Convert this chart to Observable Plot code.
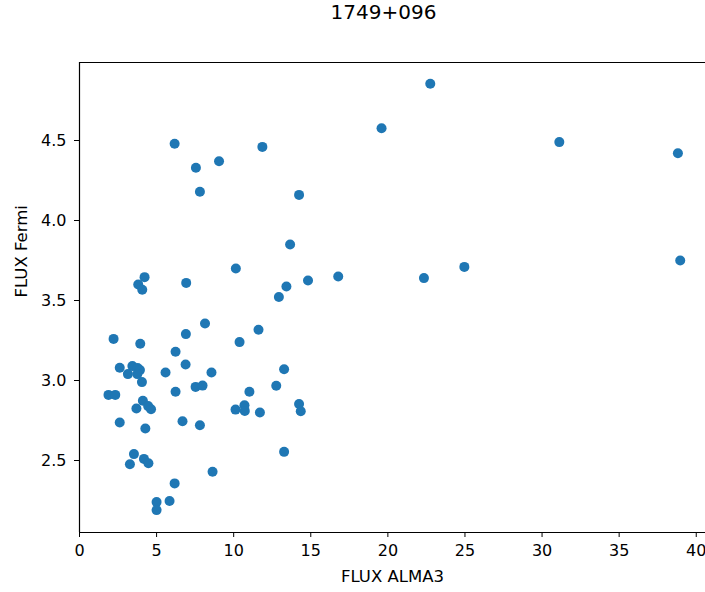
<!DOCTYPE html>
<html>
<head>
<meta charset="utf-8">
<script src="https://cdn.jsdelivr.net/npm/d3@7"></script>
<script src="https://cdn.jsdelivr.net/npm/@observablehq/plot@0.6"></script>
<style>
  html, body { margin: 0; padding: 0; background: #fff; }
  #chart { width: 705px; height: 592px; font-family: "DejaVu Sans", sans-serif; }
  #title { height: 30px; box-sizing: border-box; padding-top: 2px; padding-left: 62px;
           font-size: 20px; line-height: 20px; text-align: center; color: #000; }
  svg { display: block; }
</style>
</head>
<body>
<div id="chart"><div id="title">1749+096</div></div>
<script>
// Source name and axis titles
const title = "1749+096";
const xLabel = "FLUX ALMA3";
const yLabel = "FLUX Fermi";

// ALMA band 3 flux for each epoch
const fluxAlma3 = [
  22.75, 19.59, 31.12, 38.81, 38.96, 24.96, 22.34, 16.78, 14.82, 13.42,
  12.93, 13.66, 14.24, 11.86, 10.14, 6.17, 7.55, 9.05, 7.81, 6.92,
  4.22, 3.81, 4.07, 8.14, 6.90, 2.21, 3.94, 11.61, 10.38, 6.23,
  6.88, 2.61, 3.43, 3.77, 3.92, 3.14, 3.75, 4.05, 5.58, 8.56,
  13.27, 1.88, 2.32, 6.23, 7.53, 7.98, 11.02, 12.76, 4.11, 3.69,
  4.45, 4.64, 10.12, 10.70, 10.72, 11.70, 14.24, 14.35, 2.61, 4.27,
  6.68, 7.81, 13.27, 3.53, 3.27, 4.18, 4.47, 8.63, 6.17, 5.00,
  5.84, 5.00
];

// Matching Fermi flux for each epoch
const fluxFermi = [
  4.855, 4.577, 4.49, 4.42, 3.75, 3.71, 3.64, 3.65, 3.625, 3.587,
  3.522, 3.85, 4.16, 4.46, 3.70, 4.48, 4.33, 4.37, 4.18, 3.61,
  3.646, 3.60, 3.567, 3.356, 3.29, 3.26, 3.23, 3.317, 3.24, 3.18,
  3.10, 3.08, 3.09, 3.078, 3.065, 3.04, 3.04, 2.99, 3.05, 3.05,
  3.07, 2.91, 2.91, 2.93, 2.96, 2.968, 2.93, 2.967, 2.873, 2.825,
  2.84, 2.82, 2.818, 2.845, 2.81, 2.80, 2.853, 2.808, 2.738, 2.70,
  2.745, 2.72, 2.554, 2.54, 2.477, 2.51, 2.483, 2.43, 2.357, 2.24,
  2.247, 2.19
];

// Tick values
const xTicks = [0, 5, 10, 15, 20, 25, 30, 35, 40];
const yTicks = [2.5, 3.0, 3.5, 4.0, 4.5];

const xDomain = [0, 40.6];
const yDomain = [2.05, 4.9875];

const points = fluxAlma3.map((x, i) => ({x, y: fluxFermi[i]}));

const plot = Plot.plot({
  width: 705,
  height: 562,
  marginLeft: 79,
  marginRight: 0,
  marginTop: 32,
  marginBottom: 60,
  style: {fontFamily: "DejaVu Sans, sans-serif", fontSize: "16px", color: "#000", background: "#fff"},
  x: {domain: xDomain, ticks: xTicks, tickSize: 5, tickPadding: 7, label: null},
  y: {domain: yDomain, ticks: yTicks, tickSize: 5, tickPadding: 8, tickFormat: d3.format(".1f"), label: null},
  marks: [
    // spines: left, top and bottom
    Plot.ruleX([xDomain[0]], {stroke: "#000", strokeWidth: 1.2}),
    Plot.ruleY([yDomain[1]], {stroke: "#000", strokeWidth: 1.2}),
    Plot.ruleY([yDomain[0]], {stroke: "#000", strokeWidth: 1.2}),
    Plot.dot(points, {x: "x", y: "y", r: 5, fill: "#1f77b4", stroke: "none"}),
    Plot.text([xLabel], {frameAnchor: "bottom", dy: 49, lineAnchor: "bottom", text: d => d, fontSize: 16.5, fill: "#000"}),
    Plot.text([yLabel], {frameAnchor: "left", dx: -53, rotate: -90, lineAnchor: "bottom", text: d => d, fontSize: 16.5, fill: "#000"})
  ]
});

document.getElementById("title").textContent = title;
document.getElementById("chart").appendChild(plot);
</script>
</body>
</html>
